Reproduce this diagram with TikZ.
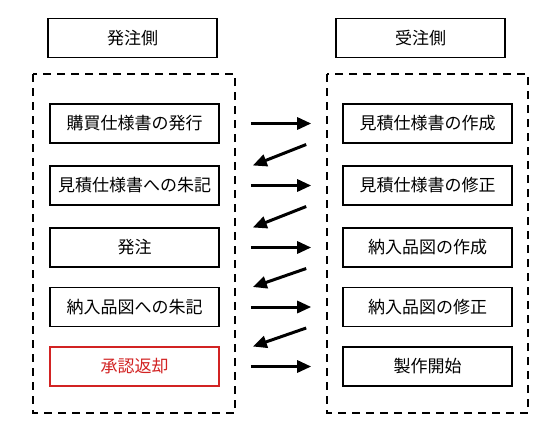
\documentclass[tikz,border=0pt]{standalone}
\usepackage{fontspec}
\newfontfamily\jpfont{Noto Sans CJK JP}
\usetikzlibrary{arrows.meta,calc}
\definecolor{retred}{RGB}{210,35,35}
\begin{document}
\begin{tikzpicture}[x=1pt, y=-1pt,
	box/.style={draw, line width=1.6pt, minimum width=169pt, minimum height=39pt, inner sep=0pt, font=\jpfont\fontsize{17}{17}\selectfont},
	group/.style={draw, line width=1.5pt, dash pattern=on 8pt off 6pt},
	flow/.style={line width=3pt, -{Triangle[length=14pt,width=12pt]}}]
\useasboundingbox (0,0) rectangle (559,440);
	% en-tetes
	\node[box] (hA) at (132.5,38) {発注側};
	\node[box] (hB) at (420.5,38) {受注側};
	% cadres pointilles
	\draw[group] (33,74) rectangle (235,413);
	\draw[group] (327,74) rectangle (528,413);
	% cote gauche
	\node[box] (a1) at (134.5,123.5) {購買仕様書の発行};
	\node[box] (a2) at (134.5,185.5) {見積仕様書への朱記};
	\node[box] (a3) at (134.5,247.5) {発注};
	\node[box] (a4) at (134.5,307) {納入品図への朱記};
	\node[box, draw=retred, text=retred] (a5) at (134.5,366.5) {承認返却};
	% cote droit
	\node[box] (b1) at (427.5,123.5) {見積仕様書の作成};
	\node[box] (b2) at (427.5,185.5) {見積仕様書の修正};
	\node[box] (b3) at (427.5,247.5) {納入品図の作成};
	\node[box] (b4) at (427.5,307) {納入品図の修正};
	\node[box] (b5) at (427.5,366.5) {製作開始};
	% fleches
	\foreach \i in {1,...,5}
		\draw[flow, shorten <=31pt, shorten >=31pt] (a\i.east) -- (b\i.west);
	\foreach \i [count=\j from 2] in {1,...,4}
		\draw[flow] ($(b\i.west)+(-36,21)$) -- ($(a\j.east)+(33,-20)$);
\end{tikzpicture}
\end{document}
